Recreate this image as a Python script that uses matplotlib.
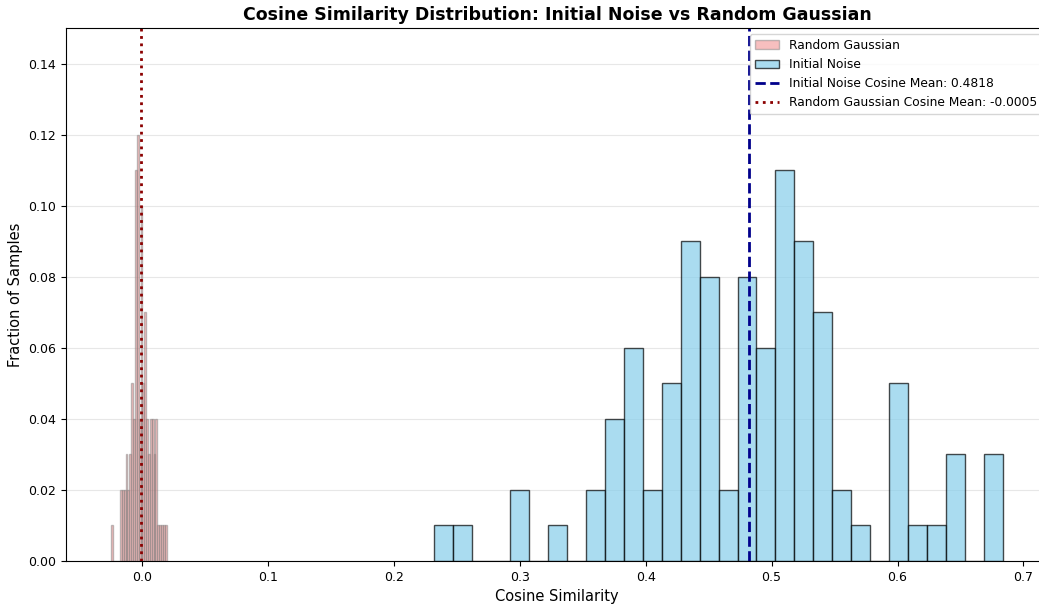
# Histogram of cosine similarity: initial noise vs random gaussian
import matplotlib
matplotlib.use("Agg")
import matplotlib.pyplot as plt
import numpy as np

# Initial Noise: 30 bins between these edges, fraction of samples per bin
noise_lo, noise_hi = 0.2317, 0.684
noise_frac = [0.01, 0.01, 0.00, 0.00, 0.02, 0.00, 0.01, 0.00, 0.02, 0.04,
              0.06, 0.02, 0.05, 0.09, 0.08, 0.02, 0.08, 0.06, 0.11, 0.09,
              0.07, 0.02, 0.01, 0.00, 0.05, 0.01, 0.01, 0.03, 0.00, 0.03]

# Random Gaussian: 30 narrow bins around zero
gauss_lo, gauss_hi = -0.0248, 0.0196
gauss_frac = [0.01, 0.00, 0.00, 0.00, 0.00, 0.02, 0.02, 0.02, 0.03, 0.02,
              0.03, 0.05, 0.04, 0.11, 0.12, 0.04, 0.10, 0.05, 0.07, 0.04,
              0.03, 0.04, 0.04, 0.03, 0.04, 0.01, 0.01, 0.01, 0.01, 0.01]

noise_mean = 0.4818
gauss_mean = -0.0005

noise_edges = np.linspace(noise_lo, noise_hi, len(noise_frac) + 1)
gauss_edges = np.linspace(gauss_lo, gauss_hi, len(gauss_frac) + 1)

fig = plt.figure(figsize=(10.39, 6.04), dpi=100)
ax = fig.add_axes([0.0635, 0.0712, 0.9452, 0.8824])

ax.hist((gauss_edges[:-1] + gauss_edges[1:]) / 2, bins=gauss_edges,
        weights=gauss_frac, color='lightcoral', alpha=0.5,
        edgecolor='gray', linewidth=1, label='Random Gaussian')
ax.hist((noise_edges[:-1] + noise_edges[1:]) / 2, bins=noise_edges,
        weights=noise_frac, color='skyblue', alpha=0.7,
        edgecolor='black', linewidth=1, label='Initial Noise')

ax.axvline(noise_mean, color='darkblue', ls='--', lw=2,
           label=f'Initial Noise Cosine Mean: {noise_mean:.4f}')
ax.axvline(gauss_mean, color='darkred', ls=':', lw=2,
           label=f'Random Gaussian Cosine Mean: {gauss_mean:.4f}')

ax.set_xlim(-0.0603, 0.7195)
ax.set_ylim(0, 0.15)
ax.set_yticks(np.arange(0, 0.141, 0.02))
ax.tick_params(labelsize=9)
ax.grid(axis='y', alpha=0.3)
ax.set_axisbelow(True)

ax.set_title("Cosine Similarity Distribution: Initial Noise vs Random Gaussian",
             fontsize=12.5, fontweight='bold')
ax.set_xlabel("Cosine Similarity", fontsize=10.5)
ax.set_ylabel("Fraction of Samples", fontsize=10.5)
ax.legend(loc='upper right', fontsize=8.8)

fig.savefig('out.png', dpi=100)
